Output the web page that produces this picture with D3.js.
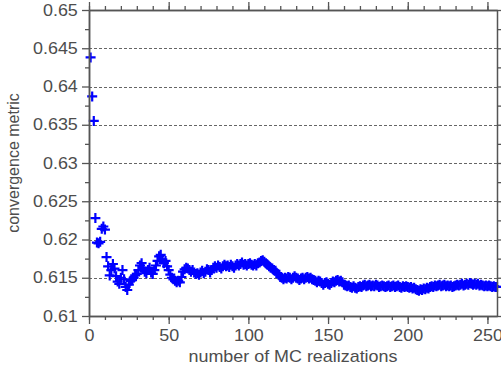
<!DOCTYPE html>
<html lang="en">
<head>
<meta charset="utf-8">
<title>MC convergence</title>
<script src="https://d3js.org/d3.v7.min.js"></script>
<style>
  body { margin: 0; background: #fff; }
  svg { display: block; }
  .tick text, .lbl { font-family: "Liberation Sans", Arial, sans-serif; fill: #4d4d4d; }
</style>
</head>
<body>
<div id="chart"></div>
<script>
// convergence metric per number of MC realizations (n = 1..256)
var metric = [
  0.6438, 0.6387, 0.6355, 0.6228, 0.6196, 0.6195, 0.6197, 0.6214, 0.6217, 0.6213,
  0.6177, 0.6165, 0.6153, 0.6160, 0.6168, 0.6162, 0.6152, 0.6145, 0.6142, 0.6150,
  0.6160, 0.6148, 0.6138, 0.6134, 0.6141, 0.6146, 0.6147, 0.6150, 0.6153, 0.6155,
  0.6160, 0.6166, 0.6169, 0.6163, 0.6158, 0.6156, 0.6160, 0.6163, 0.6157, 0.6155,
  0.6160, 0.6166, 0.6172, 0.6178, 0.6180, 0.6174, 0.6169, 0.6172, 0.6165, 0.6160,
  0.6154, 0.6150, 0.6148, 0.6146, 0.6144, 0.6146, 0.6144, 0.6151, 0.6158, 0.6161,
  0.6163, 0.6162, 0.6160, 0.6158, 0.6160, 0.6157, 0.6155, 0.6156, 0.6154, 0.6157,
  0.6159, 0.6156, 0.6158, 0.6161, 0.6160, 0.6157, 0.6160, 0.6163, 0.6165, 0.6163,
  0.6166, 0.6164, 0.6162, 0.6165, 0.6167, 0.6165, 0.6166, 0.6164, 0.6167, 0.6165,
  0.6163, 0.6166, 0.6168, 0.6166, 0.6168, 0.6170, 0.6167, 0.6168, 0.6166, 0.6168,
  0.6169, 0.6167, 0.6166, 0.6168, 0.6166, 0.6169, 0.6170, 0.6172, 0.6173, 0.6171,
  0.6169, 0.6167, 0.6165, 0.6163, 0.6162, 0.6160, 0.6159, 0.6156, 0.6154, 0.6151,
  0.6150, 0.6148, 0.6150, 0.6149, 0.6151, 0.6150, 0.6148, 0.6150, 0.6152, 0.6150,
  0.6149, 0.6147, 0.6149, 0.6150, 0.6148, 0.6150, 0.6151, 0.6149, 0.6150, 0.6148,
  0.6147, 0.6146, 0.6144, 0.6146, 0.6145, 0.6143, 0.6141, 0.6143, 0.6144, 0.6142,
  0.6141, 0.6143, 0.6145, 0.6144, 0.6146, 0.6147, 0.6145, 0.6146, 0.6144, 0.6141,
  0.6140, 0.6139, 0.6140, 0.6138, 0.6137, 0.6139, 0.6137, 0.6136, 0.6138, 0.6139,
  0.6138, 0.6140, 0.6141, 0.6139, 0.6140, 0.6141, 0.6139, 0.6140, 0.6139, 0.6141,
  0.6140, 0.6138, 0.6139, 0.6140, 0.6139, 0.6138, 0.6139, 0.6140, 0.6138, 0.6139,
  0.6140, 0.6138, 0.6139, 0.6140, 0.6138, 0.6137, 0.6139, 0.6138, 0.6139, 0.6138,
  0.6137, 0.6138, 0.6136, 0.6137, 0.6135, 0.6134, 0.6133, 0.6135, 0.6134, 0.6136,
  0.6135, 0.6137, 0.6136, 0.6138, 0.6139, 0.6138, 0.6140, 0.6139, 0.6140, 0.6141,
  0.6139, 0.6140, 0.6141, 0.6139, 0.6140, 0.6139, 0.6140, 0.6138, 0.6139, 0.6140,
  0.6141, 0.6140, 0.6141, 0.6142, 0.6140, 0.6141, 0.6142, 0.6141, 0.6143, 0.6142,
  0.6141, 0.6142, 0.6141, 0.6142, 0.6140, 0.6141, 0.6140, 0.6139, 0.6140, 0.6139,
  0.6140, 0.6139, 0.6138, 0.6139, 0.6138, 0.6138
];

// tick positions / labels
var xTicks = [0, 50, 100, 150, 200, 250];
var xMinor = d3.range(0, 256, 10);
var yTicks = [0.61, 0.615, 0.62, 0.625, 0.63, 0.635, 0.64, 0.645, 0.65];
var yTickLabels = ["0.61", "0.615", "0.62", "0.625", "0.63", "0.635", "0.64", "0.645", "0.65"];
var yMinor = [0.6125, 0.6175, 0.6225, 0.6275, 0.6325, 0.6375, 0.6425, 0.6475];
var yGrid = [0.615, 0.62, 0.625, 0.63, 0.635, 0.64, 0.645];

var w = 501, h = 370;
var pL = 89, pR = 497, pT = 10, pB = 316;
var axisColor = "#555";
var stretch = "scale(1.12,1)";   // reference text is a bit wide

var x = d3.scaleLinear().domain([0, 256]).range([pL, pR]);
var y = d3.scaleLinear().domain([0.61, 0.65]).range([pB, pT]);

var svg = d3.select("#chart").append("svg")
    .attr("width", w).attr("height", h);

// dashed grid
svg.append("g").selectAll("line")
    .data(yGrid).enter().append("line")
    .attr("x1", pL).attr("x2", pR)
    .attr("y1", function (d) { return Math.round(y(d)) + 0.5; })
    .attr("y2", function (d) { return Math.round(y(d)) + 0.5; })
    .attr("stroke", "#666")
    .attr("stroke-width", 1)
    .attr("stroke-dasharray", "3,2");

// data markers (plus signs)
svg.append("g").selectAll("path")
    .data(metric).enter().append("path")
    .attr("transform", function (d, i) { return "translate(" + x(i + 1) + "," + y(d) + ")"; })
    .attr("d", "M-5,0H5M0,-5V5")
    .attr("stroke", "#0000ff")
    .attr("stroke-width", 2.2)
    .attr("fill", "none");

function styleAxis(g) {
  g.select(".domain").attr("stroke", axisColor).attr("stroke-width", 1.5);
  g.selectAll(".tick line").attr("stroke", axisColor).attr("stroke-width", 1.3);
  g.selectAll(".tick text").style("font-size", "16px").attr("transform", stretch);
}

// minor ticks
svg.append("g").attr("transform", "translate(0," + pB + ")")
    .call(d3.axisBottom(x).tickValues(xMinor).tickSize(4).tickFormat("").tickSizeOuter(0))
    .call(styleAxis);
svg.append("g").attr("transform", "translate(0," + pT + ")")
    .call(d3.axisTop(x).tickValues(xMinor).tickSize(4).tickFormat("").tickSizeOuter(0))
    .call(styleAxis);
svg.append("g").attr("transform", "translate(" + pL + ",0)")
    .call(d3.axisLeft(y).tickValues(yMinor).tickSize(4).tickFormat("").tickSizeOuter(0))
    .call(styleAxis);
svg.append("g").attr("transform", "translate(" + pR + ",0)")
    .call(d3.axisRight(y).tickValues(yMinor.concat(yTicks)).tickSize(4).tickFormat("").tickSizeOuter(0))
    .call(styleAxis);

// major ticks with labels
svg.append("g").attr("transform", "translate(0," + pB + ")")
    .call(d3.axisBottom(x).tickValues(xTicks).tickSize(8).tickPadding(6).tickSizeOuter(0))
    .call(styleAxis);
svg.append("g").attr("transform", "translate(0," + pT + ")")
    .call(d3.axisTop(x).tickValues(xTicks).tickSize(8).tickFormat("").tickSizeOuter(0))
    .call(styleAxis);
svg.append("g").attr("transform", "translate(" + pL + ",0)")
    .call(d3.axisLeft(y).tickValues(yTicks).tickSize(7).tickPadding(3).tickSizeOuter(0)
        .tickFormat(function (d, i) { return yTickLabels[i]; }))
    .call(styleAxis);

// axis titles
svg.append("text").attr("class", "lbl")
    .attr("transform", "translate(" + (pL + pR) / 2 + ",362) " + stretch)
    .attr("text-anchor", "middle")
    .style("font-size", "16px")
    .text("number of MC realizations");

svg.append("text").attr("class", "lbl")
    .attr("transform", "translate(19," + (pT + pB) / 2 + ") rotate(-90)")
    .attr("text-anchor", "middle")
    .style("font-size", "16px")
    .text("convergence metric");
</script>
</body>
</html>
